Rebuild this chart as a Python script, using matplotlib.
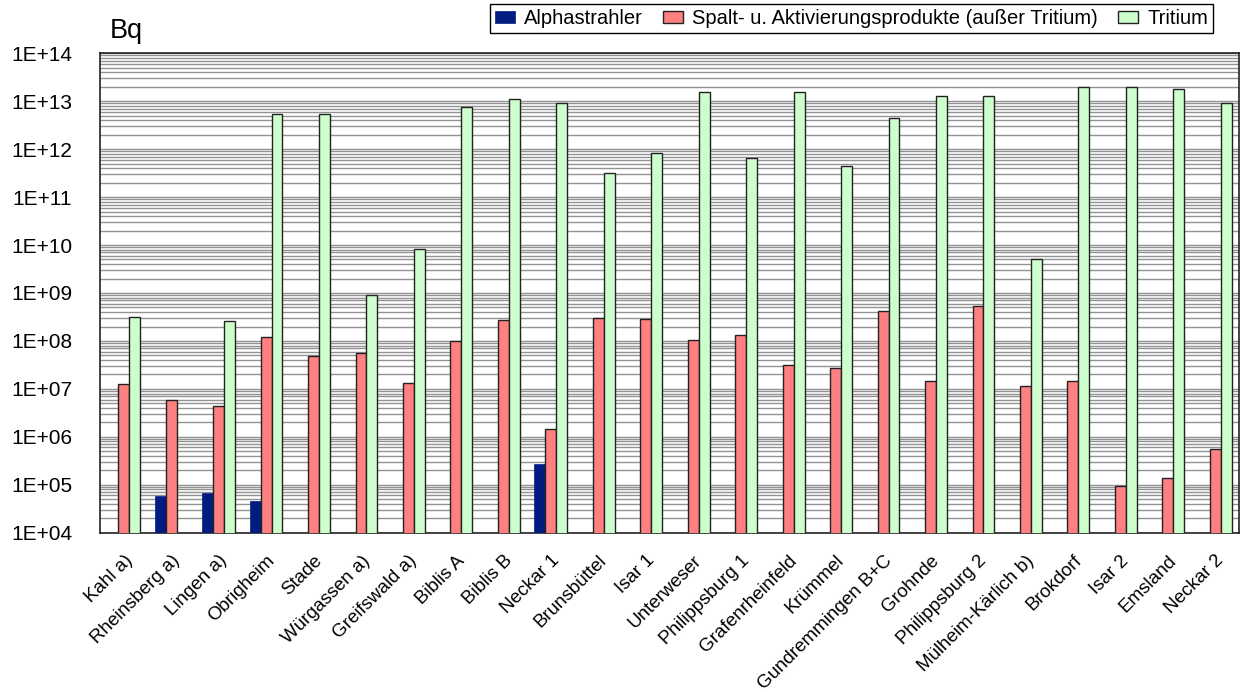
import numpy as np
import matplotlib
matplotlib.use('Agg')
import matplotlib.pyplot as plt
from matplotlib.ticker import LogLocator, FixedLocator

plt.rcParams['font.family'] = ['Liberation Sans', 'DejaVu Sans']

# plant names (x axis)
plants = ['Kahl a)', 'Rheinsberg a)', 'Lingen a)', 'Obrigheim', 'Stade',
          'Würgassen a)', 'Greifswald a)', 'Biblis A', 'Biblis B', 'Neckar 1',
          'Brunsbüttel', 'Isar 1', 'Unterweser', 'Philippsburg 1',
          'Grafenrheinfeld', 'Krümmel', 'Gundremmingen B+C', 'Grohnde',
          'Philippsburg 2', 'Mülheim-Kärlich b)', 'Brokdorf', 'Isar 2',
          'Emsland', 'Neckar 2']

# values in Bq
alpha = [None, 5.8e4, 6.6e4, 4.5e4, None, None, None, None, None, 2.7e5,
         None, None, None, None, None, None, None, None, None, None,
         None, None, None, None]
spalt = [1.25e7, 5.8e6, 4.3e6, 1.19e8, 4.9e7, 5.6e7, 1.34e7, 1.0e8, 2.8e8, 1.43e6,
         2.95e8, 2.9e8, 1.05e8, 1.36e8, 3.1e7, 2.7e7, 4.3e8, 1.43e7, 5.25e8, 1.17e7,
         1.43e7, 9.4e4, 1.38e5, 5.7e5]
tritium = [3.1e8, None, 2.6e8, 5.3e12, 5.3e12, 8.9e8, 8.3e9, 7.7e12, 1.14e13, 9.4e12,
           3.2e11, 8.3e11, 1.55e13, 6.4e11, 1.55e13, 4.4e11, 4.4e12, 1.28e13, 1.28e13, 5.2e9,
           2.0e13, 2.0e13, 1.78e13, 9.4e12]

series_names = ['Alphastrahler', 'Spalt- u. Aktivierungsprodukte (außer Tritium)', 'Tritium']
ytick_labels = ['1E+04', '1E+05', '1E+06', '1E+07', '1E+08', '1E+09',
                '1E+10', '1E+11', '1E+12', '1E+13', '1E+14']


def clean(vals):
    return np.array([np.nan if v is None else v for v in vals], dtype=float)


fig = plt.figure(figsize=(12.4, 6.92), dpi=100)
ax = fig.add_axes([100 / 1240, 159.3 / 692, 1139 / 1240, 479.4 / 692])

x = np.arange(len(plants))
w = 0.23
ax.bar(x - w, clean(alpha), w, color='#001C80', edgecolor='#001C80', linewidth=0.5,
       label=series_names[0], zorder=3)
ax.bar(x, clean(spalt), w, color='#FF8080', edgecolor='#222222', linewidth=1.0,
       label=series_names[1], zorder=3)
ax.bar(x + w, clean(tritium), w, color='#CCFFCC', edgecolor='#222222', linewidth=1.0,
       label=series_names[2], zorder=3)

ax.set_yscale('log')
ax.set_ylim(1e4, 1e14)
ax.set_xlim(-0.5, len(plants) - 0.5)

ax.yaxis.set_major_locator(FixedLocator([10.0 ** k for k in range(4, 15)]))
ax.yaxis.set_minor_locator(LogLocator(base=10, subs=np.arange(2, 10), numticks=100))
ax.set_yticklabels(ytick_labels)
ax.yaxis.set_minor_formatter(plt.NullFormatter())
ax.grid(True, which='both', axis='y', color='#939393', linewidth=1.0, zorder=0)
ax.set_axisbelow(True)

ax.tick_params(axis='y', which='both', length=0, pad=20, labelsize=15)
for lab in ax.get_yticklabels():
    lab.set_verticalalignment('center_baseline')
ax.tick_params(axis='x', length=0, pad=14)
ax.set_xticks(x)
ax.set_xticklabels(plants, rotation=45, ha='right', rotation_mode='anchor', fontsize=13.5)

for s in ax.spines.values():
    s.set_color('#222222')
    s.set_linewidth(1.2)

fig.text(110 / 1240, 1 - 38 / 692, 'Bq', fontsize=19.5)

fig.legend(loc='upper right', bbox_to_anchor=(1213 / 1240, 1 - 4 / 692), ncol=3,
           frameon=True, fancybox=False, edgecolor='black', framealpha=1,
           fontsize=14.5, handlelength=1.0, handleheight=0.6, handletextpad=0.45,
           columnspacing=1.0, borderpad=0.25, borderaxespad=0)

fig.savefig('out.png', dpi=100)
